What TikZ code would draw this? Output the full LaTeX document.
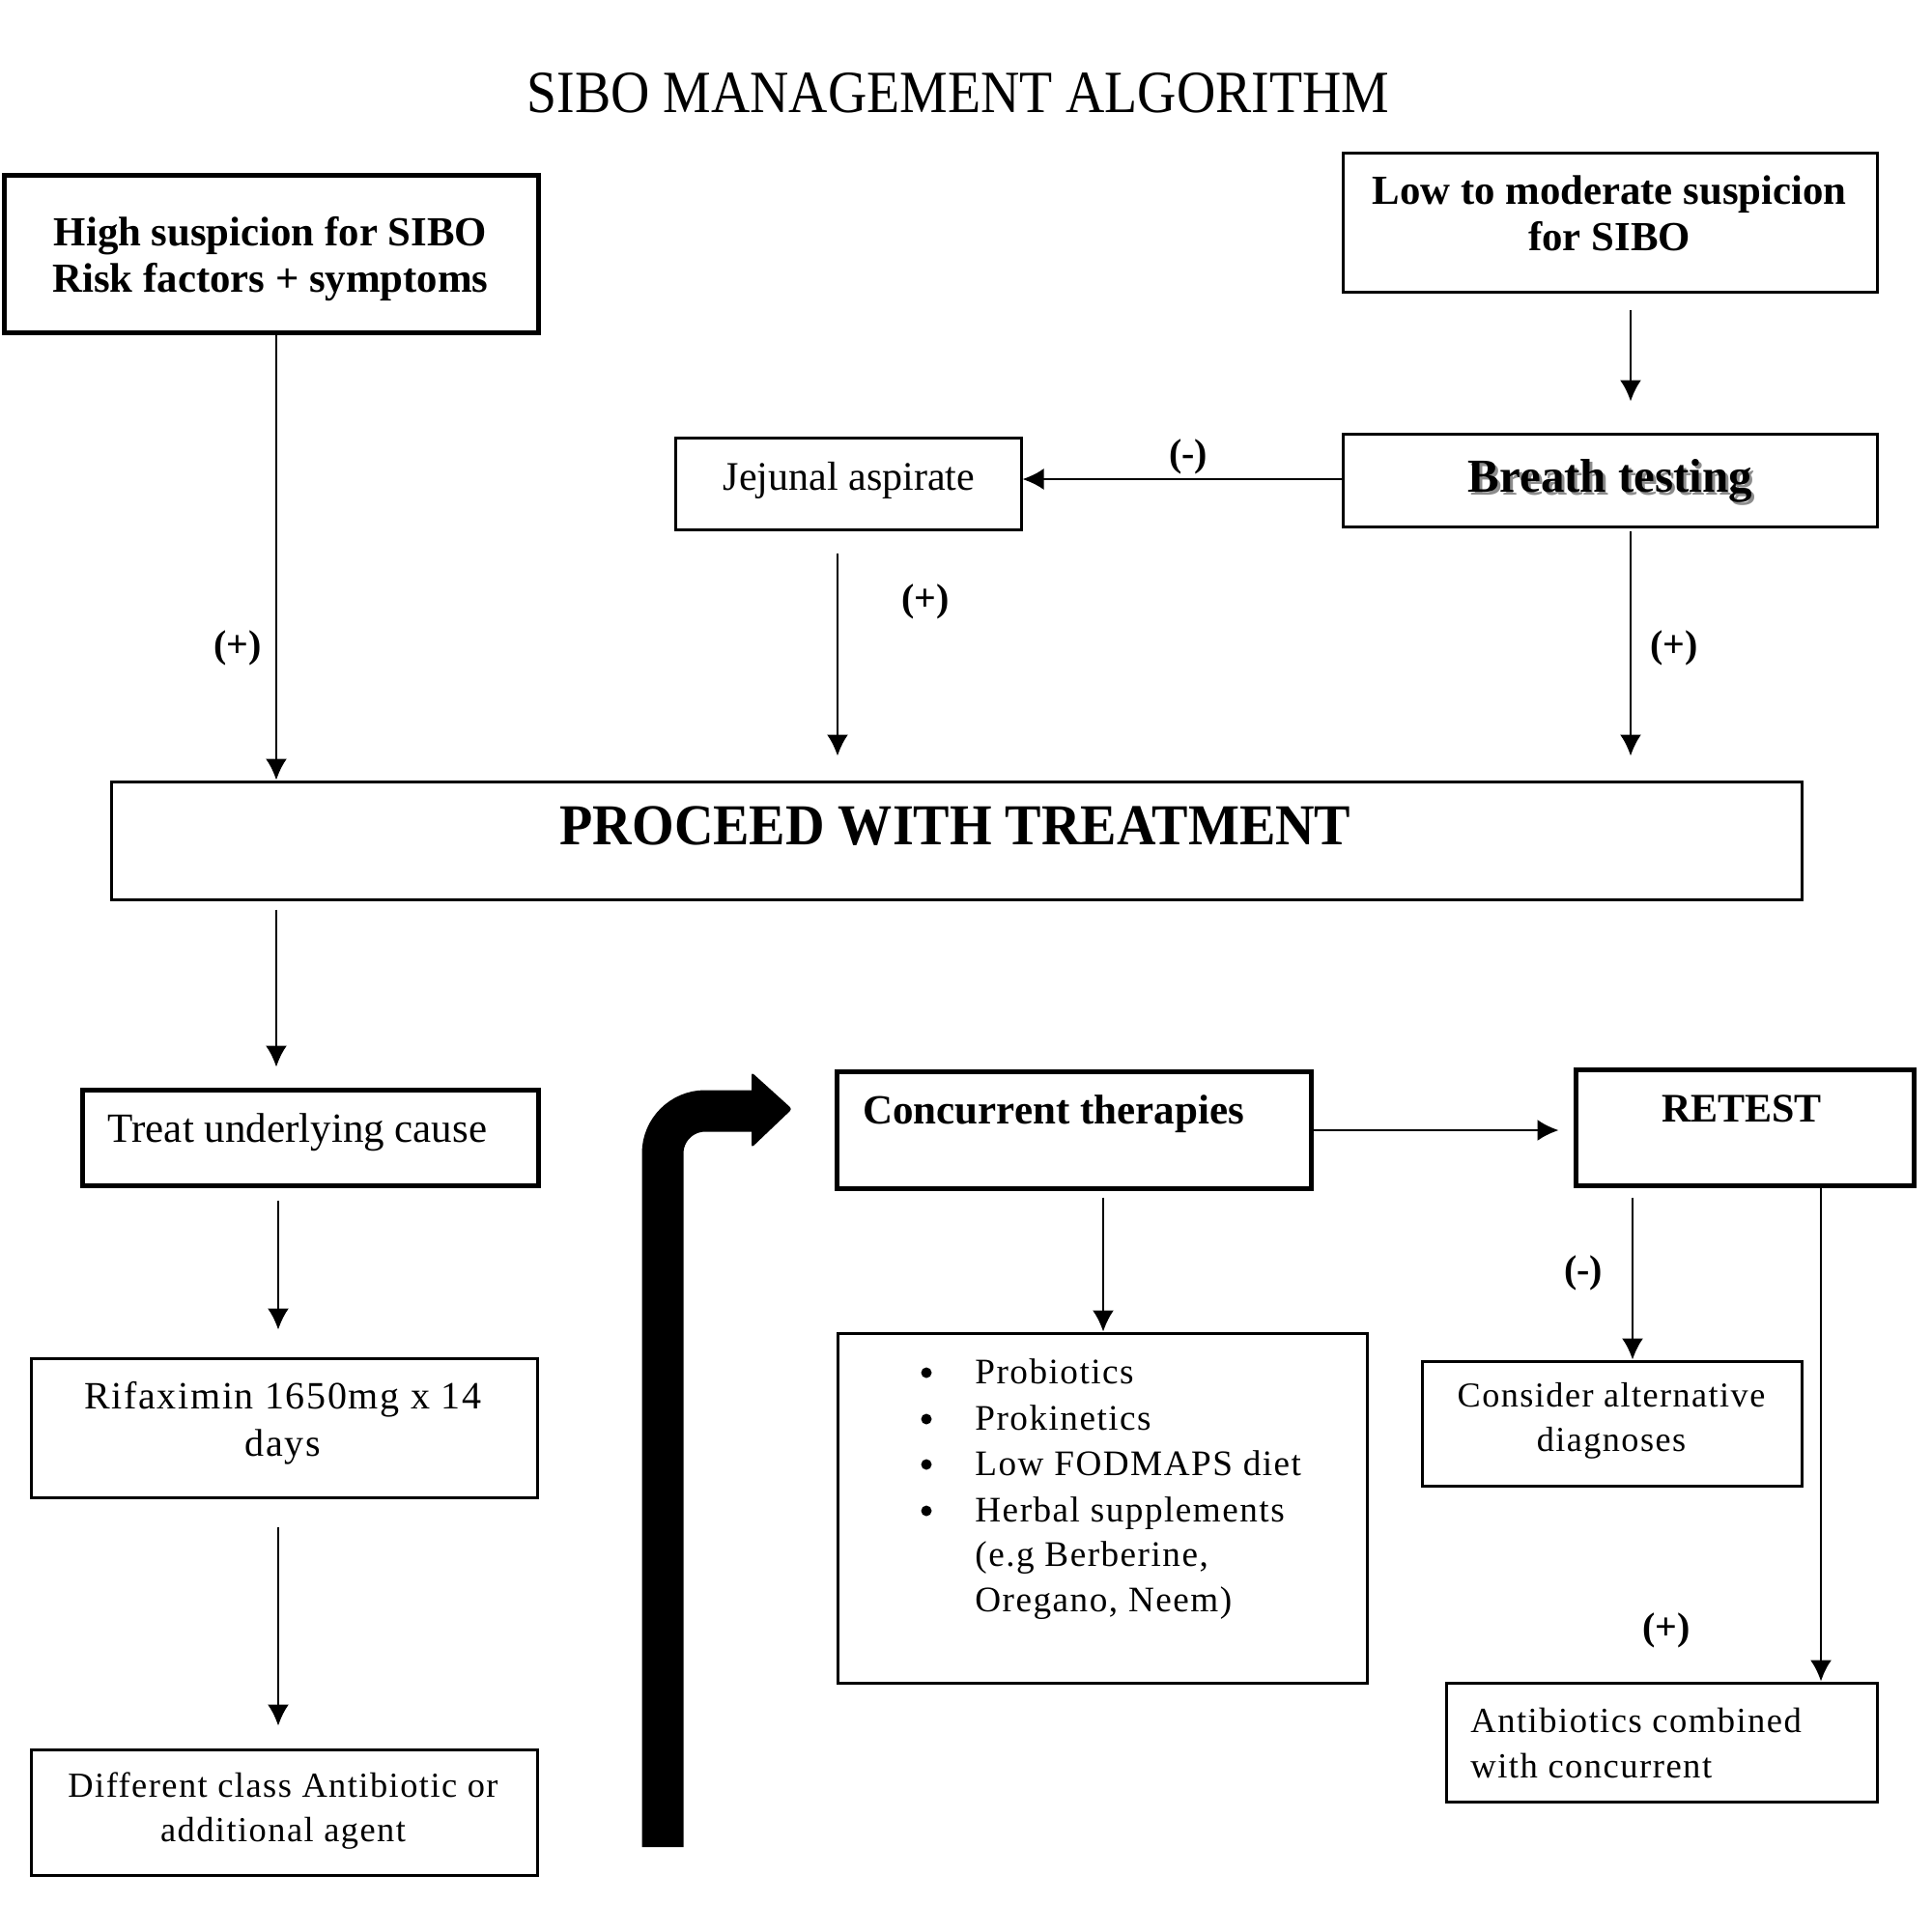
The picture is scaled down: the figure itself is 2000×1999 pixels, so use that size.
\documentclass[tikz,border=0pt]{standalone}
\usepackage{fontspec}
\usepackage{graphicx}
\setmainfont{Liberation Serif}
\newfontfamily\spc[LetterSpace=4]{Liberation Serif}
\usetikzlibrary{arrows.meta,fit}
\begin{document}
\begin{tikzpicture}[x=0.5pt,y=-0.5pt,
  box/.style={draw, line width=1.5pt, inner sep=0pt},
  tbox/.style={draw, line width=2.5pt, inner sep=0pt},
  arr/.style={line width=1.2pt, -{Latex[length=11pt,width=11pt]}},
  lab/.style={font=\bfseries\fontsize{20pt}{24pt}\selectfont, inner sep=0pt},
  bt/.style={font=\bfseries\fontsize{21.4pt}{24pt}\selectfont, align=center, inner sep=0pt},
  rt/.style={font=\fontsize{21pt}{24pt}\selectfont, align=center, inner sep=0pt},
  st/.style={font=\spc\fontsize{18.6pt}{23pt}\selectfont, inner sep=0pt},
  dot/.style={circle, fill, inner sep=0pt, minimum size=5.5pt},
]
\useasboundingbox[fill=white] (0,0) rectangle (2000,1999);

% title
\node[font=\fontsize{31pt}{36pt}\selectfont, inner sep=0pt] (title) at (992,96) {\scalebox{0.90}[1]{SIBO MANAGEMENT ALGORITHM}};

% boxes
\node[tbox, fit={(4,181) (557,344)}] (high) {};
\node[box, fit={(1390,158) (1943,302)}] (low) {};
\node[box, fit={(1390,449) (1943,545)}] (breath) {};
\node[box, fit={(699,453) (1057,548)}] (jej) {};
\node[box, fit={(115,809) (1865,931)}] (proc) {};
\node[tbox, fit={(85,1128) (557,1227)}] (treat) {};
\node[box, fit={(32,1406) (556,1550)}] (rif) {};
\node[box, fit={(32,1811) (556,1941)}] (diff) {};
\node[tbox, fit={(866,1109) (1357,1230)}] (conc) {};
\node[tbox, fit={(1631,1107) (1981,1227)}] (retest) {};
\node[box, fit={(867,1380) (1415,1742)}] (list) {};
\node[box, fit={(1472,1409) (1865,1538)}] (alt) {};
\node[box, fit={(1497,1742) (1943,1865)}] (anti) {};

% texts
\node[bt] (hight) at (280,268) {High suspicion for SIBO\\Risk factors + symptoms};
\node[bt] (lowt) at (1666,221) {Low to moderate suspicion\\for SIBO};
\node[font=\bfseries\fontsize{24.5pt}{28pt}\selectfont, text=black!45, inner sep=0pt] (breathsh) at (1670,501) {Breath testing};
\node[font=\bfseries\fontsize{24.5pt}{28pt}\selectfont, inner sep=0pt] (breatht) at (1667,498) {Breath testing};
\node[rt] (jejt) at (879,497) {Jejunal aspirate};
\node[font=\bfseries\fontsize{30pt}{34pt}\selectfont, inner sep=0pt] (proct) at (989,855) {\scalebox{0.935}[1]{PROCEED WITH TREATMENT}};
\node[font=\fontsize{21.5pt}{24pt}\selectfont, inner sep=0pt] (treatt) at (308,1172) {Treat underlying cause};
\node[font=\spc\fontsize{20pt}{24.5pt}\selectfont, align=center, inner sep=0pt] (rift) at (293,1473) {Rifaximin 1650mg x 14\\days};
\node[font=\spc\fontsize{18.2pt}{23pt}\selectfont, align=center, inner sep=0pt] (difft) at (293,1875) {Different class Antibiotic or\\additional agent};
\node[font=\bfseries\fontsize{21.5pt}{24pt}\selectfont, anchor=west, inner sep=0pt] (conct) at (893,1153) {Concurrent therapies};
\node[font=\bfseries\fontsize{21pt}{24pt}\selectfont, inner sep=0pt] (retestt) at (1803,1148) {RETEST};
\node[font=\spc\fontsize{18.1pt}{23pt}\selectfont, align=center, inner sep=0pt] (altt) at (1668,1471) {Consider alternative\\diagnoses};
\node[font=\spc\fontsize{18.3pt}{23pt}\selectfont, anchor=base west, inner sep=0pt] (anti1) at (1522,1793) {Antibiotics combined};
\node[font=\spc\fontsize{18.3pt}{23pt}\selectfont, anchor=base west, inner sep=0pt] (anti2) at (1522,1840) {with concurrent};

% list
\node[dot] (b1) at (959,1421) {};
\node[dot] (b2) at (959,1469) {};
\node[dot] (b3) at (959,1516) {};
\node[dot] (b4) at (959,1564) {};
\node[st, anchor=base west] (i1) at (1009,1432) {Probiotics};
\node[st, anchor=base west] (i2) at (1009,1480) {Prokinetics};
\node[st, anchor=base west] (i3) at (1009,1527) {Low FODMAPS diet};
\node[st, anchor=base west] (i4) at (1009,1575) {Herbal supplements};
\node[st, anchor=base west] (i5) at (1009,1621) {(e.g Berberine,};
\node[st, anchor=base west] (i6) at (1009,1668) {Oregano, Neem)};

% labels
\node[lab] (l1) at (246,671) {(+)};
\node[lab] (l2) at (1230,473) {(-)};
\node[lab] (l3) at (958,623) {(+)};
\node[lab] (l4) at (1733,671) {(+)};
\node[lab] (l5) at (1639,1318) {(-)};
\node[lab] (l6) at (1725,1688) {(+)};

% column coordinates
\coordinate (xA) at (286,0);
\coordinate (xB) at (288,0);
\coordinate (xJ) at (867,0);
\coordinate (xR) at (1688,0);
\coordinate (xC) at (1142,0);
\coordinate (xT) at (1690,0);
\coordinate (xU) at (1885,0);
\coordinate (yH) at (0,1170);
\coordinate (yB) at (0,496);

% connectors
\draw[arr] (high.south -| xA) -- (proc.north -| xA);
\draw[arr, shorten <=8.5pt, shorten >=16pt] (low.south -| xR) -- (breath.north -| xR);
\draw[arr] (breath.west |- yB) -- (jej.east |- yB);
\draw[arr, shorten <=11.5pt, shorten >=12.5pt] (jej.south -| xJ) -- (proc.north -| xJ);
\draw[arr, shorten <=1.5pt, shorten >=12.5pt] (breath.south -| xR) -- (proc.north -| xR);
\draw[arr, shorten <=4.5pt, shorten >=10.5pt] (proc.south -| xA) -- (treat.north -| xA);
\draw[arr, shorten <=6.5pt, shorten >=14pt] (treat.south -| xB) -- (rif.north -| xB);
\draw[arr, shorten <=14.5pt, shorten >=11.5pt] (rif.south -| xB) -- (diff.north -| xB);
\draw[arr, shorten >=7.5pt] (conc.east |- yH) -- (retest.west |- yH);
\draw[arr, shorten <=3.5pt] (conc.south -| xC) -- (list.north -| xC);
\draw[arr, shorten <=5pt] (retest.south -| xT) -- (alt.north -| xT);
\draw[arr] (retest.south -| xU) -- (anti.north -| xU);

% big bent arrow
\draw[line width=21.5pt, rounded corners=22pt] (686,1912) -- (686,1150) -- (782,1150);
\fill[rounded corners=1.5pt] (778,1110) -- (820,1148) -- (778,1188) -- cycle;
\end{tikzpicture}
\end{document}
